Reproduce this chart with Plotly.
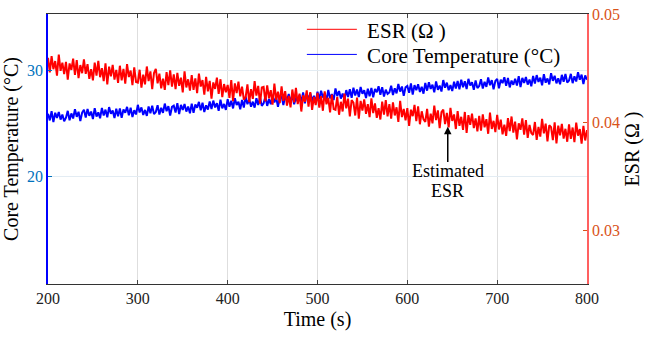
import plotly.graph_objects as go

# sample times (s), every 2 s
time_s = list(range(200, 801, 2))

# ESR, in milli-ohm (plotted in ohm)
esr_mohm = [
    45.94, 44.59, 46.09, 44.89, 45.64, 44.29, 46.24, 44.74, 45.49, 44.44,
    45.57, 43.92, 45.42, 44.82, 45.87, 44.37, 45.72, 44.07, 45.27, 44.52,
    45.80, 44.45, 45.35, 44.00, 44.90, 43.85, 45.50, 44.30, 45.65, 44.15,
    44.98, 43.78, 45.43, 43.48, 45.13, 44.23, 45.28, 43.93, 44.83, 43.63,
    45.21, 43.86, 44.91, 43.56, 45.36, 44.16, 44.76, 43.41, 45.06, 43.71,
    43.64, 44.84, 43.19, 44.39, 43.49, 45.14, 43.79, 44.69, 43.04, 44.54,
    44.92, 43.57, 44.47, 43.12, 44.02, 42.97, 44.62, 43.42, 44.77, 43.27,
    44.40, 43.05, 44.55, 43.35, 44.10, 42.75, 44.70, 43.20, 43.95, 42.90,
    44.33, 42.98, 44.03, 42.68, 44.48, 43.28, 43.88, 42.53, 44.18, 42.83,
    43.81, 42.16, 43.66, 43.06, 44.11, 42.61, 43.96, 42.31, 43.51, 42.76,
    43.43, 42.23, 43.88, 41.93, 43.58, 42.68, 43.73, 42.38, 43.28, 42.08,
    42.29, 43.49, 41.84, 43.04, 42.14, 43.79, 42.44, 43.34, 41.69, 43.19,
    43.25, 41.90, 43.40, 42.20, 42.95, 41.60, 43.55, 42.05, 42.80, 41.75,
    43.31, 41.96, 42.86, 41.51, 42.41, 41.36, 43.01, 41.81, 43.16, 41.66,
    42.62, 40.97, 42.47, 41.87, 42.92, 41.42, 42.77, 41.12, 42.32, 41.57,
    42.69, 41.34, 42.39, 41.04, 42.84, 41.64, 42.24, 40.89, 42.54, 41.19,
    41.12, 42.32, 40.67, 41.87, 40.97, 42.62, 41.27, 42.17, 40.52, 42.02,
    41.80, 40.60, 42.25, 40.30, 41.95, 41.05, 42.10, 40.75, 41.65, 40.45,
    42.18, 40.83, 41.73, 40.38, 41.28, 40.23, 41.88, 40.68, 42.03, 40.53,
    41.66, 40.31, 41.81, 40.61, 41.36, 40.01, 41.96, 40.46, 41.21, 40.16,
    41.29, 39.64, 41.14, 40.54, 41.59, 40.09, 41.44, 39.79, 40.99, 40.24,
    40.02, 41.22, 39.57, 40.77, 39.87, 41.52, 40.17, 41.07, 39.42, 40.92,
    41.15, 39.80, 40.85, 39.50, 41.30, 40.10, 40.70, 39.35, 41.00, 39.65,
    40.48, 39.28, 40.93, 38.98, 40.63, 39.73, 40.78, 39.43, 40.33, 39.13,
    40.56, 39.21, 40.71, 39.51, 40.26, 38.91, 40.86, 39.36, 40.11, 39.06,
    40.66, 39.31, 40.21, 38.86, 39.76, 38.71, 40.36, 39.16, 40.51, 39.01,
    40.03, 38.38, 39.88, 39.28, 40.33, 38.83, 40.18, 38.53, 39.73, 38.98,
    38.80, 40.00, 38.35, 39.55, 38.65, 40.30, 38.95, 39.85, 38.20, 39.70,
    39.52, 38.32, 39.97, 38.02, 39.67, 38.77, 39.82, 38.47, 39.37, 38.17,
    39.79, 38.44, 39.49, 38.14, 39.94, 38.74, 39.34, 37.99, 39.64, 38.29,
    39.25,
]

# core temperature (deg C)
core_temp_c = [
    25.89, 25.25, 26.13, 25.09, 25.97, 25.49, 26.05, 25.33, 25.81, 25.17,
    25.51, 26.15, 25.27, 25.91, 25.43, 26.31, 25.59, 26.07, 25.19, 25.99,
    26.25, 25.53, 26.33, 25.69, 26.09, 25.37, 26.41, 25.61, 26.01, 25.45,
    26.43, 25.71, 26.27, 25.55, 26.51, 25.87, 26.19, 25.47, 26.35, 25.63,
    26.37, 25.49, 26.29, 25.97, 26.53, 25.73, 26.45, 25.57, 26.21, 25.81,
    26.72, 26.00, 26.48, 25.76, 26.24, 25.68, 26.56, 25.92, 26.64, 25.84,
    26.04, 26.68, 25.80, 26.44, 25.96, 26.84, 26.12, 26.60, 25.72, 26.52,
    26.64, 26.00, 26.88, 25.84, 26.72, 26.24, 26.80, 26.08, 26.56, 25.92,
    26.84, 25.96, 26.76, 26.44, 27.00, 26.20, 26.92, 26.04, 26.68, 26.28,
    27.04, 26.32, 27.12, 26.48, 26.88, 26.16, 27.20, 26.40, 26.80, 26.24,
    27.26, 26.54, 27.10, 26.38, 27.34, 26.70, 27.02, 26.30, 27.18, 26.46,
    27.50, 26.78, 27.26, 26.54, 27.02, 26.46, 27.34, 26.70, 27.42, 26.62,
    26.86, 27.50, 26.62, 27.26, 26.78, 27.66, 26.94, 27.42, 26.54, 27.34,
    27.58, 26.70, 27.50, 27.18, 27.74, 26.94, 27.66, 26.78, 27.42, 27.02,
    27.66, 27.02, 27.90, 26.86, 27.74, 27.26, 27.82, 27.10, 27.58, 26.94,
    27.97, 27.25, 28.05, 27.41, 27.81, 27.09, 28.13, 27.33, 27.73, 27.17,
    28.27, 27.55, 28.03, 27.31, 27.79, 27.23, 28.11, 27.47, 28.19, 27.39,
    28.33, 27.61, 28.17, 27.45, 28.41, 27.77, 28.09, 27.37, 28.25, 27.53,
    28.31, 27.43, 28.23, 27.91, 28.47, 27.67, 28.39, 27.51, 28.15, 27.75,
    27.89, 28.53, 27.65, 28.29, 27.81, 28.69, 27.97, 28.45, 27.57, 28.37,
    28.50, 27.86, 28.74, 27.70, 28.58, 28.10, 28.66, 27.94, 28.42, 27.78,
    28.78, 28.06, 28.86, 28.22, 28.62, 27.90, 28.94, 28.14, 28.54, 27.98,
    29.06, 28.34, 28.82, 28.10, 28.58, 28.02, 28.90, 28.26, 28.98, 28.18,
    29.10, 28.38, 28.94, 28.22, 29.18, 28.54, 28.86, 28.14, 29.02, 28.30,
    28.50, 29.14, 28.26, 28.90, 28.42, 29.30, 28.58, 29.06, 28.18, 28.98,
    29.17, 28.29, 29.09, 28.77, 29.33, 28.53, 29.25, 28.37, 29.01, 28.61,
    29.19, 28.55, 29.43, 28.39, 29.27, 28.79, 29.35, 28.63, 29.11, 28.47,
    29.45, 28.73, 29.53, 28.89, 29.29, 28.57, 29.61, 28.81, 29.21, 28.65,
    29.71, 28.99, 29.47, 28.75, 29.23, 28.67, 29.55, 28.91, 29.63, 28.83,
    29.01, 29.65, 28.77, 29.41, 28.93, 29.81, 29.09, 29.57, 28.69, 29.49,
    29.10,
]

esr_ohm = [v / 1000.0 for v in esr_mohm]

x_ticks = [200, 300, 400, 500, 600, 700, 800]
temp_ticks = [20, 30]
esr_ticks = [0.03, 0.04, 0.05]

FONT = "Liberation Serif"
RED = "#FF0000"
BLUE = "#0000FF"

fig = go.Figure()
fig.add_trace(go.Scatter(
    x=time_s, y=core_temp_c, mode="lines", showlegend=False,
    line=dict(color=BLUE, width=2, simplify=False), yaxis="y",
))
fig.add_trace(go.Scatter(
    x=time_s, y=esr_ohm, mode="lines", showlegend=False,
    line=dict(color=RED, width=2, simplify=False), yaxis="y2",
))
# legend entries
fig.add_trace(go.Scatter(
    x=[None], y=[None], mode="lines", name="\u00a0ESR (Ω )",
    line=dict(color=RED, width=1), legend="legend",
))
fig.add_trace(go.Scatter(
    x=[None], y=[None], mode="lines", name="\u00a0Core Temperature (°C)",
    line=dict(color=BLUE, width=1), legend="legend2",
))

fig.add_annotation(
    x=645, y=0.03957, xref="x", yref="y2",
    ax=645, ay=0.03615, axref="x", ayref="y2",
    text="", showarrow=True, arrowhead=2, arrowsize=1, arrowwidth=1.5, arrowcolor="black",
)
fig.add_annotation(
    x=645, y=0.03543, xref="x", yref="y2", yanchor="middle",
    text="Estimated", showarrow=False,
    font=dict(family=FONT, size=18, color="black"),
)
fig.add_annotation(
    x=645, y=0.03363, xref="x", yref="y2", yanchor="middle",
    text="ESR", showarrow=False,
    font=dict(family=FONT, size=18, color="black"),
)

legend_common = dict(
    xanchor="left", yanchor="middle", bgcolor="rgba(255,255,255,0)",
    font=dict(family=FONT, size=21, color="black"), itemwidth=50,
)

fig.update_layout(
    width=646, height=339,
    margin=dict(l=48, r=59, t=6, b=55),
    paper_bgcolor="white", plot_bgcolor="white",
    font=dict(family=FONT, size=16, color="black"),
    showlegend=True,
    legend=dict(x=0.471, y=0.942, **legend_common),
    legend2=dict(x=0.471, y=0.849, **legend_common),
    xaxis=dict(
        range=[200, 800], tickvals=x_ticks, ticks="inside", ticklen=4,
        showgrid=True, gridcolor="#DEDEDE", gridwidth=1,
        showline=True, linecolor="#333333", linewidth=1, mirror="ticks",
        tickfont=dict(family=FONT, size=16, color="#222222"),
        title=dict(text="Time (s)", font=dict(family=FONT, size=20, color="black"), standoff=5),
        zeroline=False,
    ),
    yaxis=dict(
        range=[9.8, 35.3], tickvals=temp_ticks, ticks="inside", ticklen=4,
        tickcolor="#0072BD",
        showgrid=True, gridcolor="#E3ECF3", gridwidth=1,
        showline=True, linecolor=BLUE, linewidth=1.5,
        tickfont=dict(family=FONT, size=16, color="#0072BD"),
        title=dict(text="Core Temperature (°C)", font=dict(family=FONT, size=20, color="black"), standoff=3),
        zeroline=False,
    ),
    yaxis2=dict(
        range=[0.025, 0.05], tickvals=esr_ticks, tickformat=".2f", ticks="inside", ticklen=4,
        tickcolor="#D95319",
        overlaying="y", side="right", showgrid=False,
        showline=True, linecolor="#FF6060", linewidth=1.5,
        tickfont=dict(family=FONT, size=16, color="#D95319"),
        title=dict(text="ESR (Ω )", font=dict(family=FONT, size=20, color="black"), standoff=6),
        zeroline=False,
    ),
)

fig.write_html(
    "out.html",
    config={"displayModeBar": False},
    post_script="document.body.style.margin='0';",
)
